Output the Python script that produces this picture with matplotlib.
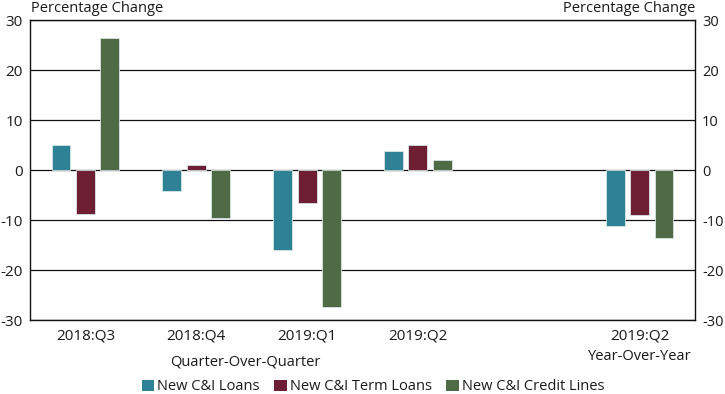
#!/usr/bin/env python3
"""Bar chart: percentage change in new C&I loans, term loans and credit lines."""

import numpy as np
import matplotlib
matplotlib.use("Agg")
import matplotlib.pyplot as plt
from matplotlib.patches import Patch

# data
periods = ["2018:Q3", "2018:Q4", "2019:Q1", "2019:Q2", "2019:Q2"]
positions = [0, 1, 2, 3, 5]
series_names = ["New C&I Loans", "New C&I Term Loans", "New C&I Credit Lines"]
ci_loans = [5.1, -4.2, -15.9, 3.9, -11.1]
term_loans = [-8.8, 1.0, -6.5, 5.1, -8.9]
credit_lines = [26.5, -9.5, -27.4, 2.1, -13.5]

colors = ["#2F8296", "#6E1F33", "#4F6B45"]
y_ticks = [-30, -20, -10, 0, 10, 20, 30]

plt.rcParams["font.family"] = ["Open Sans", "DejaVu Sans"]
plt.rcParams["text.color"] = "#1a1a1a"

W, H = 725, 394
fig = plt.figure(figsize=(W / 100, H / 100), dpi=100)
ax = fig.add_axes([30 / W, (H - 320) / H, 665 / W, 300 / H])

x = np.array(positions, dtype=float)
width = 0.17
step = 0.22
for i, (vals, col) in enumerate(zip([ci_loans, term_loans, credit_lines], colors)):
    ax.bar(x + (i - 1) * step, vals, width, color=col, edgecolor="#d8e4e4",
           linewidth=0.6, zorder=3)

ax.set_xlim(-0.5, 5.5)
ax.set_ylim(-30, 30)
ax.set_yticks(y_ticks)
ax.set_yticklabels([str(v) for v in y_ticks])
ax.set_xticks(positions)
ax.set_xticklabels(periods)
ax.tick_params(axis="both", length=0, colors="#1a1a1a", labelsize=11)
ax.tick_params(axis="y", pad=5)
ax.tick_params(axis="x", pad=6)
ax.yaxis.grid(True, color="#111111", linewidth=0.9, zorder=1)
for s in ax.spines.values():
    s.set_color("#111111")
    s.set_linewidth(1.0)

# right-hand labels on a twin axis so they get their own padding
ax2 = ax.twinx()
ax2.set_ylim(-30, 30)
ax2.set_yticks(y_ticks)
ax2.set_yticklabels([str(v) for v in y_ticks])
ax2.tick_params(axis="y", length=0, colors="#1a1a1a", labelsize=10.5, pad=5)
for s in ax2.spines.values():
    s.set_visible(False)

fig.text(31 / W, 1 - 8 / H, "Percentage Change", ha="left", va="center", fontsize=10.5)
fig.text(695 / W, 1 - 8 / H, "Percentage Change", ha="right", va="center", fontsize=10.5)
fig.text(245 / W, 1 - 362 / H, "Quarter-Over-Quarter", ha="center", va="center", fontsize=10.5)
fig.text(640 / W, 1 - 356 / H, "Year-Over-Year", ha="center", va="center", fontsize=10.5)

handles = [Patch(facecolor=c, edgecolor="none") for c in colors]
fig.legend(handles, series_names, loc="center", bbox_to_anchor=(373 / W, 1 - 387 / H),
           ncol=3, frameon=False, fontsize=10.5, handlelength=0.85, handleheight=0.85,
           handletextpad=0.2, columnspacing=1.0, borderaxespad=0)

fig.savefig("out.png", dpi=100)
